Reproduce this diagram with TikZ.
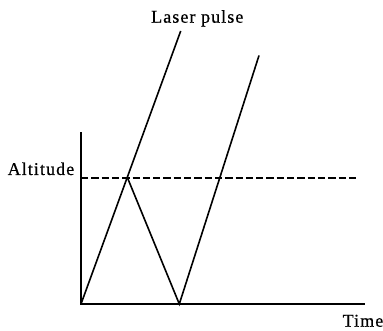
\documentclass[tikz,border=0pt]{standalone}
\usepackage{fontspec}
\setmainfont[LetterSpace=6,FakeBold=0.6]{Liberation Serif}
\begin{document}
\begin{tikzpicture}[x=1pt,y=-1pt,
  ln/.style={line width=1.6pt, line join=miter},
  lbl/.style={font=\fontsize{18}{20}\selectfont, inner sep=0pt}]
\useasboundingbox (0,0) rectangle (383,331);
\coordinate (ytop) at (81,132.5);
\coordinate (o) at (81,304);
\coordinate (xend) at (365,304);
\coordinate (p) at (127.7,178.3);
\coordinate (r1) at (180.7,31);
\coordinate (b) at (179.3,304);
\coordinate (r2) at (259,55.5);
\coordinate (dl) at (81,178.3);
\coordinate (dr) at (356,178.3);
\draw[ln] (ytop) -- (o) -- (xend);
\draw[ln] (o) -- (r1);
\draw[ln] (p) -- (b) -- (r2);
\draw[ln, dash pattern=on 7.3pt off 3pt] (dl) -- (dr);
\node[lbl, anchor=base west] (alt) at (7.5,175) {Altitude};
\node[lbl, anchor=base west] (las) at (151,22.7) {Laser pulse};
\node[lbl, anchor=base west] (tim) at (342.5,326.7) {Time};
\end{tikzpicture}
\end{document}
